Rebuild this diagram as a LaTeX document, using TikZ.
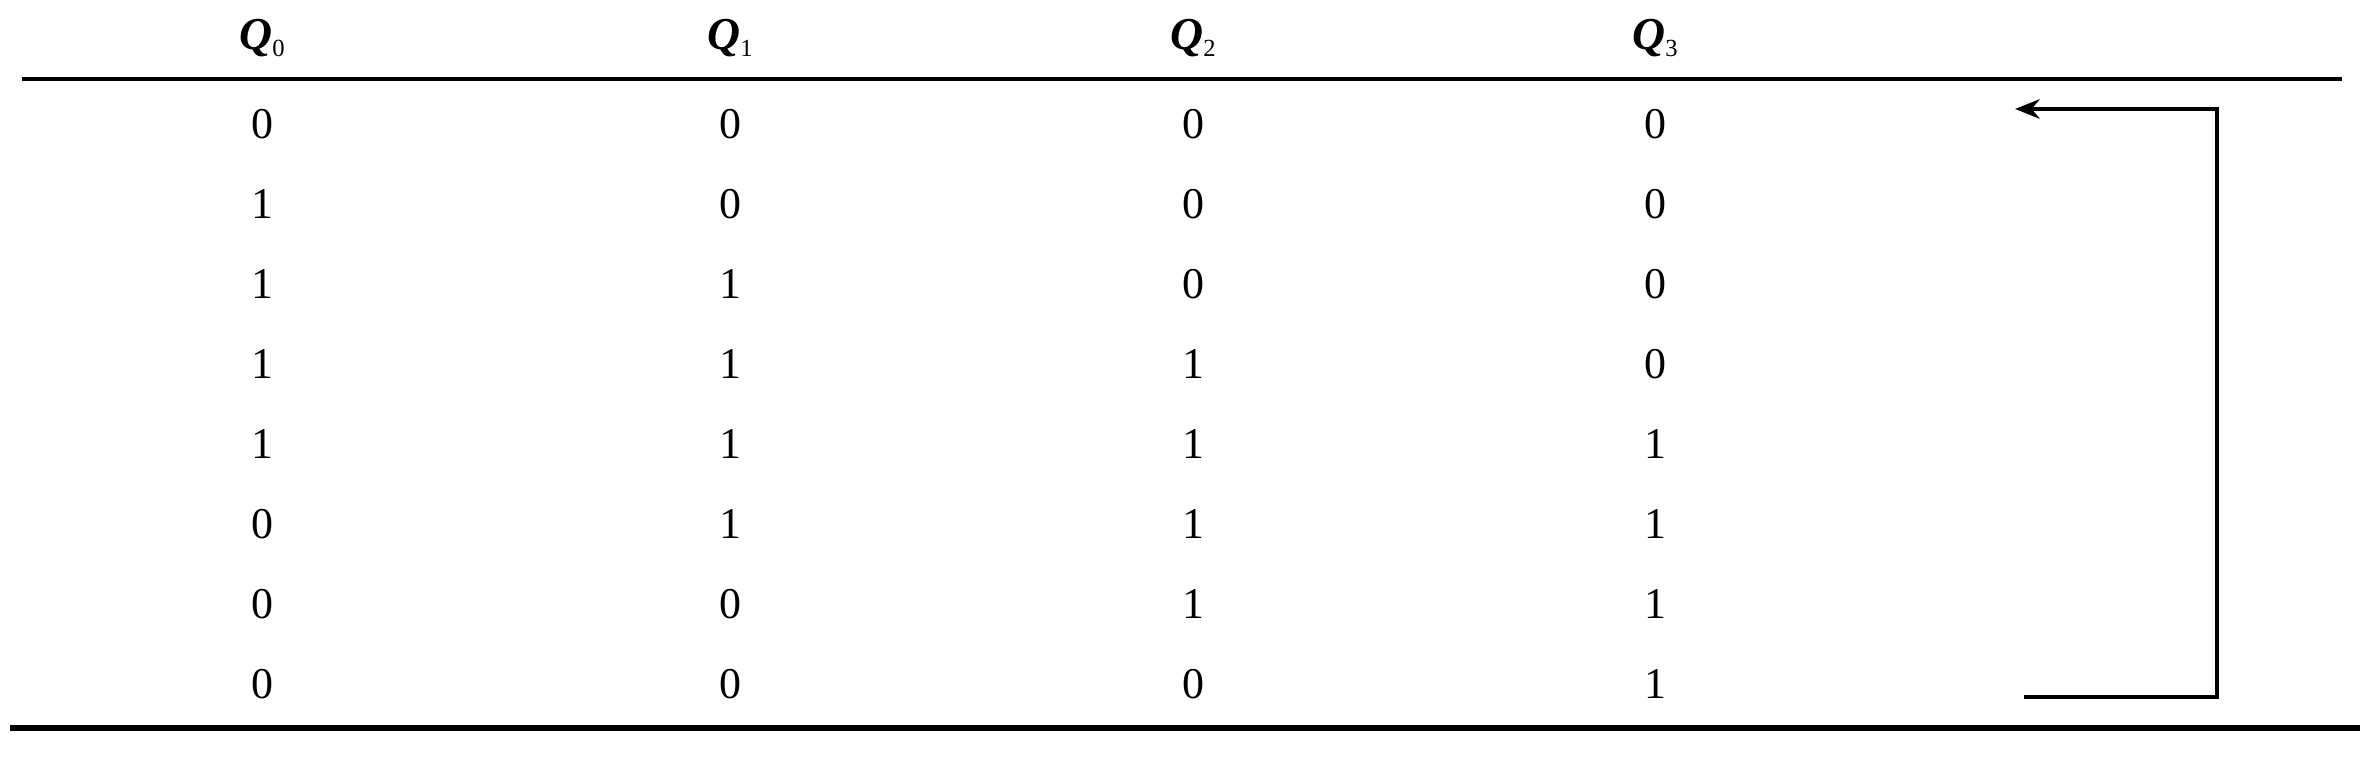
\documentclass[tikz,border=0pt]{standalone}
\usepackage{fontspec}
\setmainfont{Liberation Serif}
\usetikzlibrary{positioning, arrows.meta}
\tikzstyle{stateTable} = [x = 0.01cm, y = -0.01cm]
\tikzstyle{ruleLine} = [color=black, line width=1.3pt]
\tikzstyle{bottomRule} = [color=black, line width=1.8pt]
\tikzstyle{loopLine} = [color=black, line width=1.3pt, -{Stealth[length=7pt, width=5.5pt]}]
\tikzstyle{stateText} = [font=\fontsize{12.5}{12.5}\selectfont, inner sep=0pt]
\tikzstyle{headText} = [font=\fontsize{13}{13}\selectfont, inner sep=0pt, anchor=base]
\newcommand{\colA}{262}
\newcommand{\colB}{730}
\newcommand{\colC}{1193}
\newcommand{\colD}{1655}
\newcommand{\headCell}[3]{\node [headText] (#1) at (#2, 50) {{\bfseries\itshape Q}\raisebox{-0.3ex}{\fontsize{7}{7}\selectfont #3}};}

\begin{document}
\begin{tikzpicture}[stateTable]
  \useasboundingbox (0,0) rectangle (2368,768);
  \headCell{headZero}{\colA}{0}
  \headCell{headOne}{\colB}{1}
  \headCell{headTwo}{\colC}{2}
  \headCell{headThree}{\colD}{3}
  \draw [ruleLine] (22,79) -- (2342,79);
  \draw [bottomRule] (10,728) -- (2360,728);
  \foreach \qa/\qb/\qc/\qd [count=\row] in {0/0/0/0, 1/0/0/0, 1/1/0/0, 1/1/1/0,
      1/1/1/1, 0/1/1/1, 0/0/1/1, 0/0/0/1} {
    \pgfmathsetmacro{\rowY}{124 + 80 * (\row - 1)}
    \node [stateText] (qZero\row) at (\colA, \rowY) {\qa};
    \node [stateText] (qOne\row) at (\colB, \rowY) {\qb};
    \node [stateText] (qTwo\row) at (\colC, \rowY) {\qc};
    \node [stateText] (qThree\row) at (\colD, \rowY) {\qd};
  }
  % feedback from the last state back to the first
  \coordinate (loopIn) at (2024,697);
  \coordinate (loopCorner) at (2217,109);
  \coordinate (loopOut) at (2015,109);
  \draw [loopLine] (loopIn) -| (loopCorner) -- (loopOut);
\end{tikzpicture}
\end{document}
